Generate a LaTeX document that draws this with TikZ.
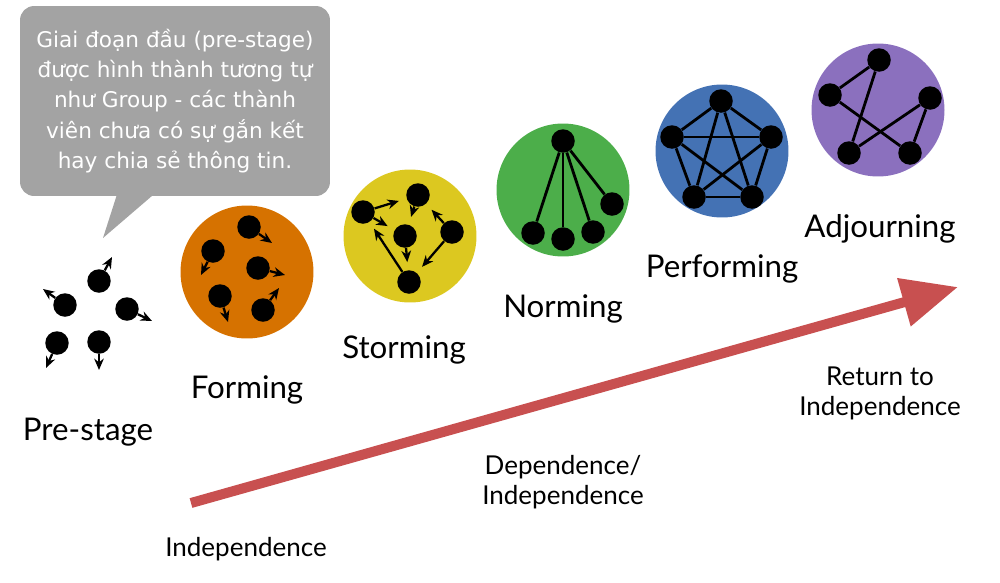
\documentclass[tikz,border=0pt]{standalone}
\usepackage{fontspec}
\setmainfont{Lato}
\newfontfamily\notefont{DejaVu Sans}
\usepackage{xcolor}
\usetikzlibrary{arrows.meta,calc}
\definecolor{camform}{RGB}{214,114,0}
\definecolor{vangstorm}{RGB}{220,200,32}
\definecolor{xanhnorm}{RGB}{76,174,74}
\definecolor{xanhperf}{RGB}{68,114,180}
\definecolor{timadj}{RGB}{139,112,190}
\definecolor{doarrow}{RGB}{200,80,80}
\definecolor{xamnote}{RGB}{163,163,163}

\begin{document}
\begin{tikzpicture}[x=0.02cm,y=-0.02cm,
    stage/.style={circle,fill=#1,minimum size=2.66cm,inner sep=0pt},
    dot/.style={circle,fill=black,minimum size=0.47cm,inner sep=0pt},
    tick/.style={-{Stealth[length=6.5pt,width=5.5pt]},line width=1.3pt},
    push/.style={-{Stealth[length=6.5pt,width=5.5pt]},line width=1.3pt,shorten >=4.5pt},
    link/.style={line width=1.6pt},
    lab/.style={font=\fontsize{17.8}{21}\selectfont},
    sublab/.style={font=\fontsize{14.8}{17}\selectfont,align=center}]
  \useasboundingbox (0,0) rectangle (1000,582);

  % speech bubble
  \node[fill=xamnote,rounded corners=8pt,minimum width=6.2cm,minimum height=3.8cm,
        text=white,align=center,font=\notefont\fontsize{12.3}{17.2}\selectfont]
        (note) at (175,101) {Giai đoạn đầu (pre-stage)\\được hình thành tương tự\\
        như Group - các thành\\viên chưa có sự gắn kết\\hay chia sẻ thông tin.};
  \coordinate (tailtip) at (103,238);
  \fill[xamnote] ($(note.south west)+(97,-1)$) -- (tailtip) -- ($(note.south west)+(133,-1)$) -- cycle;

  % the big arrow
  \coordinate (arrstart) at (191,503);
  \coordinate (arrend) at (958,287);
  \draw[doarrow,line width=5.7pt,-{Triangle[length=32pt,width=27pt]}] (arrstart) -- (arrend);

  % stage discs
  \node[stage=camform]   (forming)    at (247,272) {};
  \node[stage=vangstorm] (storming)   at (410,236) {};
  \node[stage=xanhnorm]  (norming)    at (563,190) {};
  \node[stage=xanhperf]  (performing) at (722,151) {};
  \node[stage=timadj]    (adjourning) at (878,110) {};

  % pre-stage and forming: loose dots
  \foreach \n/\x/\y/\ex/\ey in {1/99/281/112/257, 2/65/305/43/289, 3/127/309/152/321,
                                4/57/343/46/368, 5/99/342/99/370}{
    \node[dot] (p\n) at (\x,\y) {};
    \coordinate (p\n e) at (\ex,\ey);
    \draw[tick] (p\n) -- (p\n e);}
  \foreach \n/\x/\y/\ex/\ey in {1/249/227/272/243, 2/213/251/201/275, 3/258/268/285/275,
                                4/220/296/228/322, 5/263/310/279/288}{
    \node[dot] (f\n) at (\x,\y) {};
    \coordinate (f\n e) at (\ex,\ey);
    \draw[tick] (f\n) -- (f\n e);}

  % storming
  \node[dot] (s1) at (363,212) {};
  \node[dot] (s2) at (418,195) {};
  \node[dot] (s3) at (405,236) {};
  \node[dot] (s4) at (452,232) {};
  \node[dot] (s5) at (409,282) {};
  \foreach \a/\b in {s1/s2,s1/s3,s2/s3,s3/s5,s5/s1,s4/s2,s4/s5}
    \draw[push] (\a) -- (\b);

  % norming
  \node[dot] (n0) at (563,141) {};
  \foreach \n/\x/\y in {1/533/233, 2/563/239, 3/593/232, 4/612/204}{
    \node[dot] (n\n) at (\x,\y) {};
    \draw[link] (n0) -- (n\n);}

  % performing
  \foreach \n/\x/\y in {0/721/101, 1/672/137, 2/771/137, 3/694/197, 4/752/197}
    \node[dot] (q\n) at (\x,\y) {};
  \foreach \a/\b in {0/1,0/2,0/3,0/4,1/2,1/3,1/4,2/3,2/4,3/4}
    \draw[link] (q\a) -- (q\b);

  % adjourning
  \foreach \n/\x/\y in {0/879/60, 1/830/95, 2/930/98, 3/849/153, 4/910/153}
    \node[dot] (a\n) at (\x,\y) {};
  \foreach \a/\b in {0/1,0/3,1/4,3/2,2/4}
    \draw[link] (a\a) -- (a\b);

  % labels
  \node[lab] (prelab)  at (88,432)  {Pre-stage};
  \node[lab] (formlab) at (247,390) {Forming};
  \node[lab] (stormlab) at (404,350) {Storming};
  \node[lab] (normlab) at (563,309) {Norming};
  \node[lab] (perflab) at (722,269) {Performing};
  \node[lab] (adjlab)  at (880,229) {Adjourning};
  \node[sublab] (indep)  at (246,549) {Independence};
  \node[sublab] (depind) at (563,482) {Dependence/\\Independence};
  \node[sublab] (retind) at (880,393) {Return to\\Independence};
\end{tikzpicture}
\end{document}
